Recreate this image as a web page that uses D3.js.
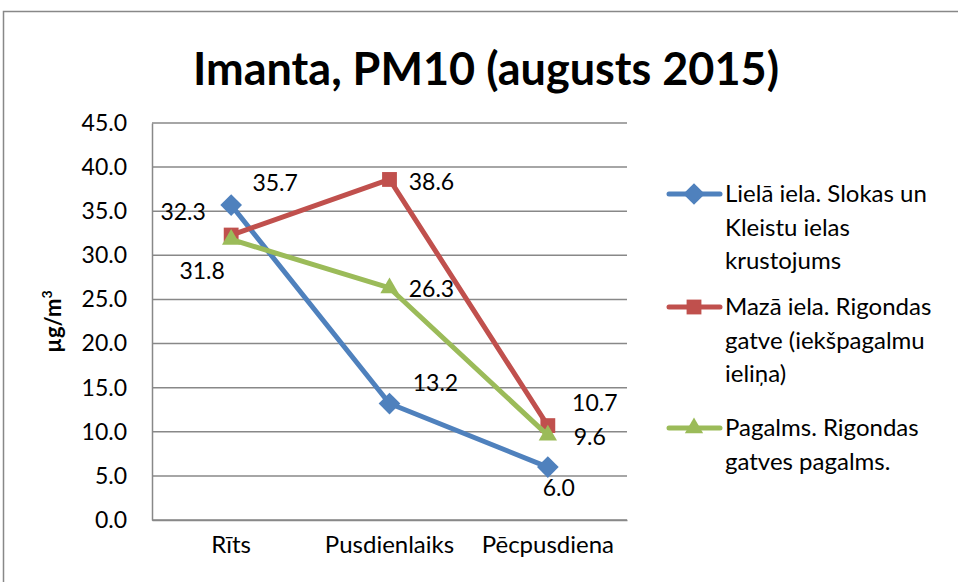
<!DOCTYPE html>
<html>
<head>
<meta charset="utf-8">
<script src="https://cdn.jsdelivr.net/npm/d3@7"></script>
<style>
  body { margin: 0; background: #fff; }
  svg { display: block; font-family: Lato, "Open Sans", sans-serif; }
</style>
</head>
<body>
<div id="chart"></div>
<script>
// Data
const categories = ["Rīts", "Pusdienlaiks", "Pēcpusdiena"];
const seriesNames = [
    ["Lielā iela. Slokas un", "Kleistu ielas", "krustojums"],
    ["Mazā iela. Rigondas", "gatve (iekšpagalmu", "ieliņa)"],
    ["Pagalms. Rigondas", "gatves pagalms."]
];
const lielaIela = [35.7, 13.2, 6.0];
const mazaIela = [32.3, 38.6, 10.7];
const pagalms = [31.8, 26.3, 9.6];
const yTicks = [0, 5, 10, 15, 20, 25, 30, 35, 40, 45];

// Styling
const colors = ["#4F81BD", "#C0504D", "#9BBB59"];
const symbols = [d3.symbolDiamond2, d3.symbolSquare2, d3.symbolTriangle2];
const symbolSizes = [300, 280, 240];
// label offsets from each point (dx, dy), per series
const labelOffsets = [
    [[44, -22], [46, -21], [11, 21]],
    [[-48, -23], [42, 2], [47, -23]],
    [[-29, 31], [42, 1], [42, 2]]
];

const width = 958, height = 582;
const plotLeft = 152, plotRight = 627, plotTop = 123, plotBottom = 520;

const series = [lielaIela, mazaIela, pagalms].map((vals, i) => ({
    name: seriesNames[i], values: vals, color: colors[i],
    symbol: symbols[i], size: symbolSizes[i], offsets: labelOffsets[i]
}));

const svg = d3.select("#chart").append("svg")
    .attr("width", width).attr("height", height);

// Outer border
svg.append("rect")
    .attr("x", 3.5).attr("y", 11.5)
    .attr("width", 970).attr("height", 590)
    .attr("fill", "none").attr("stroke", "#888").attr("stroke-width", 1.5);

// Title
svg.append("text")
    .attr("x", 486).attr("y", 85)
    .attr("text-anchor", "middle")
    .attr("font-size", 45).attr("font-weight", "bold")
    .text("Imanta, PM10 (augusts 2015)");

// Scales
const x = d3.scaleBand().domain(categories).range([plotLeft, plotRight]);
const y = d3.scaleLinear().domain([0, 45]).range([plotBottom, plotTop]);

// Grid
svg.append("g")
    .selectAll("line").data(yTicks).enter().append("line")
    .attr("x1", plotLeft).attr("x2", plotRight)
    .attr("y1", d => y(d)).attr("y2", d => y(d))
    .attr("stroke", "#888").attr("stroke-width", 1.5);

// Y axis
const yAxis = svg.append("g")
    .attr("transform", `translate(${plotLeft},0)`)
    .call(d3.axisLeft(y).tickValues(yTicks).tickFormat(d3.format(".1f")).tickSize(0).tickPadding(25));
yAxis.select(".domain").attr("stroke", "#888").attr("stroke-width", 1.5);
yAxis.selectAll("text").attr("font-size", 23).attr("font-family", "Lato, sans-serif").attr("fill", "#000");

// X axis
const xAxis = svg.append("g")
    .attr("transform", `translate(0,${plotBottom})`)
    .call(d3.axisBottom(x).tickSize(0).tickPadding(16));
xAxis.select(".domain").attr("stroke", "#888").attr("stroke-width", 1.5);
xAxis.selectAll("text").attr("font-size", 24).attr("font-family", "Lato, sans-serif").attr("fill", "#000");

// Y axis title
svg.append("text")
    .attr("transform", `translate(61, ${(plotTop + plotBottom) / 2}) rotate(-90)`)
    .attr("text-anchor", "middle")
    .attr("font-size", 22).attr("font-weight", "bold")
    .html("µg/m<tspan font-size='14' dy='-9'>3</tspan>");

// Lines
const line = d3.line()
    .x((d, i) => x(categories[i]) + x.bandwidth() / 2)
    .y(d => y(d));

series.forEach(s => {
    const g = svg.append("g");
    g.append("path")
        .datum(s.values)
        .attr("d", line)
        .attr("fill", "none").attr("stroke", s.color)
        .attr("stroke-width", 5).attr("stroke-linejoin", "round");
    g.selectAll(".pt").data(s.values).enter().append("path")
        .attr("d", d3.symbol().type(s.symbol).size(s.size))
        .attr("transform", (d, i) => `translate(${x(categories[i]) + x.bandwidth() / 2},${y(d)})`)
        .attr("fill", s.color);
});

// Data labels
series.forEach(s => {
    svg.append("g").selectAll("text").data(s.values).enter().append("text")
        .attr("x", (d, i) => x(categories[i]) + x.bandwidth() / 2 + s.offsets[i][0])
        .attr("y", (d, i) => y(d) + s.offsets[i][1])
        .attr("dy", "0.35em")
        .attr("text-anchor", "middle")
        .attr("font-size", 23)
        .text(d => d3.format(".1f")(d));
});

// Legend
const legendTop = [194, 307, 428];
const legend = svg.append("g");
series.forEach((s, i) => {
    const g = legend.append("g").attr("transform", `translate(0,${legendTop[i]})`);
    g.append("line")
        .attr("x1", 669).attr("x2", 720).attr("y1", 0).attr("y2", 0)
        .attr("stroke", s.color).attr("stroke-width", 5).attr("stroke-linecap", "round");
    g.append("path")
        .attr("d", d3.symbol().type(s.symbol).size(s.size))
        .attr("transform", "translate(694,0)")
        .attr("fill", s.color);
    g.selectAll("text").data(s.name).enter().append("text")
        .attr("x", 725).attr("y", (d, j) => j * 33.5)
        .attr("dy", "0.35em")
        .attr("font-size", 24)
        .text(d => d);
});
</script>
</body>
</html>
